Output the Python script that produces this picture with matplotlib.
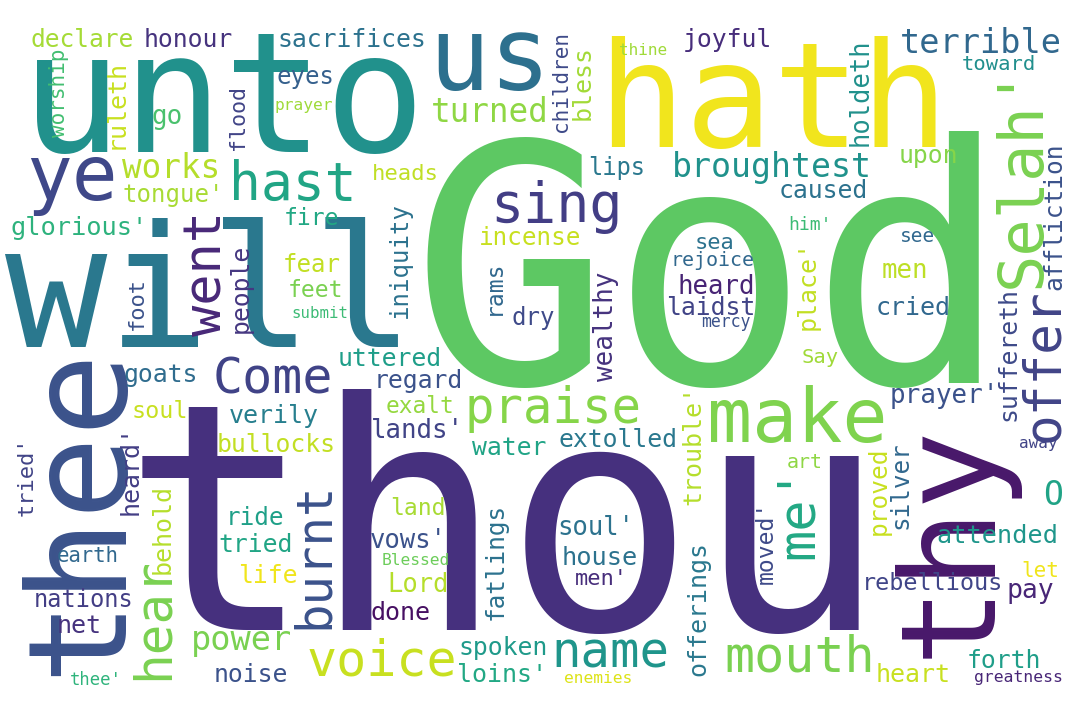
import matplotlib
matplotlib.use("Agg")
import matplotlib.pyplot as plt

# words of the cloud (big ones first)
WORDS = ["God", "thou", "unto", "will", "thee", "hath", "thy", "us", "ye", "hast",
         "Selah'", "make", "mouth", "praise", "voice", "sing", "name", "went", "burnt", "hear",
         "me'", "Come", "offer", "works", "turned", "broughtest", "terrible", "power", "O",
         "declare", "honour", "sacrifices", "eyes", "prayer", "worship", "ruleth", "go", "flood",
         "tongue'", "glorious'", "fire", "people", "foot", "fear", "feet", "submit", "heads",
         "children", "bless", "thine", "joyful", "lips", "incense", "iniquity", "rams", "dry",
         "wealthy", "uttered", "rejoice", "sea", "heard", "laidst", "mercy", "holdeth", "toward",
         "upon", "caused", "him'", "see", "place'", "men", "cried", "affliction", "suffereth",
         "Say", "goats", "soul", "verily", "bullocks", "tried'", "heard'", "behold", "ride",
         "tried", "earth", "life", "nations", "net", "noise", "thee'", "regard", "exalt",
         "lands'", "water", "extolled", "trouble'", "land", "vows'", "Blessed", "Lord", "done",
         "fatlings", "soul'", "house", "men'", "offerings", "spoken", "loins'", "enemies",
         "prayer'", "away", "art", "silver", "proved", "moved'", "attended", "let", "rebellious",
         "pay", "heart", "forth", "greatness"]

# layout in pixels: horizontal words -> (centre x, baseline y); vertical words -> (baseline x, centre y)
POS_X = [710, 505, 223, 210, 118, 773, 988, 490, 72, 293,
         1040, 797, 800, 553, 382, 557, 610, 222, 328, 168,
         813, 273, 1058, 171, 490, 772, 981, 241, 1053,
         82, 188, 352, 305, 304, 65, 123, 167, 244,
         173, 79, 311, 248, 143, 312, 316, 320, 405,
         567, 590, 643, 727, 617, 530, 407, 500, 533,
         613, 390, 713, 715, 716, 711, 726, 868, 999,
         928, 823, 810, 918, 815, 905, 913, 1061, 1015,
         820, 161, 160, 274, 276, 33, 138, 170, 255,
         256, 88, 268, 84, 79, 251, 96, 418, 420,
         417, 509, 618, 700, 418, 408, 416, 418, 401,
         503, 596, 600, 601, 705, 503, 502, 598,
         944, 1038, 805, 907, 886, 773, 997, 1040, 933,
         1030, 913, 1004, 1018]
POS_Y = [383, 630, 152, 347, 510, 147, 540, 90, 200, 200,
         176, 442, 672, 423, 675, 222, 668, 273, 555, 618,
         512, 393, 365, 178, 122, 177, 53, 650, 505,
         47, 47, 47, 84, 110, 93, 104, 124, 117,
         202, 235, 225, 288, 303, 272, 297, 318, 180,
         82, 82, 55, 47, 175, 245, 260, 287, 325,
         326, 366, 266, 249, 294, 315, 327, 92, 70,
         163, 198, 230, 242, 285, 278, 315, 216, 354,
         363, 382, 418, 423, 452, 476, 470, 529, 525,
         552, 562, 583, 607, 633, 682, 685, 388, 413,
         438, 455, 447, 445, 515, 548, 565, 592, 620,
         561, 535, 565, 585, 609, 655, 682, 683,
         403, 448, 468, 485, 491, 542, 543, 577, 590,
         598, 682, 668, 682]
SIZE_PX = [332, 318, 168, 170, 138, 146, 131, 102, 76, 53,
           62, 75, 50, 49, 50, 55, 49, 52, 49, 51,
           52, 50, 51, 32.6, 32.7, 33.3, 33.7, 33.7, 33,
           24.5, 24.8, 24.8, 24, 16.2, 21, 25, 26, 21.6,
           24, 25.4, 23, 24.8, 22, 24, 23, 15.7, 22.3,
           21, 25, 16, 24.8, 23.8, 24.3, 24, 23, 24,
           26, 24.8, 20, 22, 25.8, 24.8, 16.5, 25.5, 20.5,
           24.7, 24.8, 18, 19.5, 25, 25.8, 25, 24.5, 24.8,
           20.5, 24.7, 23.4, 25, 24.8, 22, 25, 25, 24.3,
           24.7, 20.6, 24.7, 23.6, 25, 24.7, 17.3, 24.8, 22.7,
           25.8, 24.7, 24.8, 25, 23, 25.6, 16.3, 25.5, 25,
           24.4, 25.6, 25.4, 22, 25, 24.8, 25, 16.3,
           26, 16, 20, 24.2, 24.5, 23, 25.2, 21, 23.5,
           26.4, 25, 24.7, 16.4]
VERTICAL = {"thee", "thy", "Selah'", "went", "burnt", "hear", "me'", "offer", "worship",
            "ruleth", "flood", "people", "foot", "children", "bless", "iniquity", "rams",
            "wealthy", "holdeth", "place'", "affliction", "suffereth", "tried'", "heard'",
            "behold", "trouble'", "fatlings", "offerings", "silver", "proved", "moved'"}
COLORS = ["#5dc863", "#46307e", "#21918c", "#2a788e", "#3b528b", "#f1e51d", "#48186a", "#2d708e", "#3f4889", "#21a585",
          "#7ad151", "#7fd34e", "#7ad151", "#86d549", "#c8e020", "#433e85", "#1f958b", "#482878", "#3b528b", "#7ad151",
          "#22a884", "#404387", "#414487", "#b5de2b", "#8fd744", "#20928c", "#31688e", "#7ad151", "#20a386",
          "#a5db36", "#46337e", "#2c728e", "#35608d", "#9fda3a", "#42be71", "#c8e020", "#4ac16d", "#414487",
          "#a8db34", "#2db27d", "#22a884", "#453781", "#3b528b", "#c2df23", "#7ad151", "#3cbb75", "#c0df25",
          "#3e4a89", "#a2da37", "#a0da39", "#472d7b", "#2a788e", "#c8e020", "#2c728e", "#31688e", "#3e4a89",
          "#46337e", "#1f9e89", "#31688e", "#2c728e", "#482475", "#414487", "#3b528b", "#21918c", "#218f8d",
          "#86d549", "#2c728e", "#3cbb75", "#31688e", "#c2df23", "#bddf26", "#31688e", "#3b528b", "#3e4a89",
          "#a0da39", "#2f6c8e", "#c8e020", "#277f8e", "#c2df23", "#414487", "#433e85", "#b5de2b", "#1fa088",
          "#21a585", "#31688e", "#f0e51c", "#433e85", "#46337e", "#3b528b", "#2fb47c", "#3b528b", "#95d840",
          "#414487", "#20a486", "#2a788e", "#b5de2b", "#a8db34", "#3b528b", "#6ccd5a", "#b5de2b", "#471063",
          "#2c728e", "#2c728e", "#2c728e", "#472d7b", "#2a788e", "#1f9a8a", "#22a884", "#dde318",
          "#3b528b", "#414487", "#8fd744", "#31688e", "#c8e020", "#3e4a89", "#1f968b", "#f0e51c", "#404588",
          "#482677", "#c8e020", "#1f9e89", "#482677"]

W, H, DPI = 1080, 720, 100

fig = plt.figure(figsize=(W / DPI, H / DPI), dpi=DPI)
fig.patch.set_facecolor("white")
ax = fig.add_axes([0, 0, 1, 1])
ax.set_xlim(0, W)
ax.set_ylim(H, 0)
ax.axis("off")

for word, x, y, px, col in zip(WORDS, POS_X, POS_Y, SIZE_PX, COLORS):
    rot = 90 if word in VERTICAL else 0
    ax.text(x, y, word, fontsize=px * 72 / DPI, family="DejaVu Sans Mono",
            color=col, rotation=rot, rotation_mode="anchor",
            ha="center", va="baseline")

fig.savefig("out.png", dpi=DPI, facecolor="white")
plt.close(fig)
